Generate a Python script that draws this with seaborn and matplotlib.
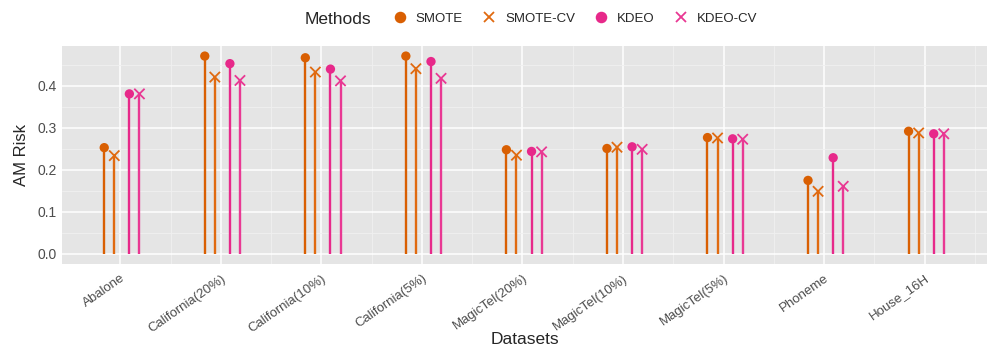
import numpy as np
import pandas as pd
import seaborn as sns
import matplotlib.pyplot as plt
from matplotlib.lines import Line2D

# data
datasets = ['Abalone', 'California(20%)', 'California(10%)', 'California(5%)',
            'MagicTel(20%)', 'MagicTel(10%)', 'MagicTel(5%)', 'Phoneme', 'House_16H']
methods = ['SMOTE', 'SMOTE-CV', 'KDEO', 'KDEO-CV']
smote = [0.253, 0.471, 0.467, 0.471, 0.248, 0.251, 0.277, 0.175, 0.292]
smote_cv = [0.234, 0.421, 0.433, 0.441, 0.235, 0.254, 0.276, 0.149, 0.288]
kdeo = [0.381, 0.453, 0.440, 0.458, 0.244, 0.255, 0.274, 0.229, 0.286]
kdeo_cv = [0.381, 0.413, 0.412, 0.418, 0.243, 0.249, 0.273, 0.161, 0.286]
y_ticks = [0.0, 0.1, 0.2, 0.3, 0.4]

colors = {'SMOTE': '#D95F02', 'SMOTE-CV': '#E06A10', 'KDEO': '#E7298A', 'KDEO-CV': '#E93893'}
markers = {'SMOTE': 'o', 'SMOTE-CV': 'x', 'KDEO': 'o', 'KDEO-CV': 'x'}
offsets = {'SMOTE': -0.16, 'SMOTE-CV': -0.06, 'KDEO': 0.09, 'KDEO-CV': 0.19}

rows = []
for m, vals in zip(methods, [smote, smote_cv, kdeo, kdeo_cv]):
    for i, (d, v) in enumerate(zip(datasets, vals)):
        rows.append({'Datasets': d, 'Methods': m, 'AM Risk': v, 'pos': i + 1 + offsets[m]})
df = pd.DataFrame(rows)

sns.set_theme(style='darkgrid')
plt.rcParams['font.family'] = ['Liberation Sans', 'DejaVu Sans']

fig = plt.figure(figsize=(9.97, 3.54), dpi=100)
ax = fig.add_axes([62 / 997, 1 - 264 / 354, 925 / 997, 218 / 354])
ax.set_facecolor('#E5E5E5')

# stems
for m in methods:
    sub = df[df.Methods == m]
    ax.vlines(sub['pos'], 0, sub['AM Risk'], colors=colors[m], lw=1.7, zorder=2)

dots = df[df.Methods.isin(['SMOTE', 'KDEO'])]
crosses = df[df.Methods.isin(['SMOTE-CV', 'KDEO-CV'])]
sns.scatterplot(data=dots, x='pos', y='AM Risk', hue='Methods', palette=colors,
                marker='o', s=45, linewidth=0, legend=False, ax=ax, zorder=3)
sns.scatterplot(data=crosses, x='pos', y='AM Risk', hue='Methods', palette=colors,
                marker='x', s=55, linewidth=1.3, legend=False, ax=ax, zorder=3)

ax.set_xlim(1 - 0.58, 9 + 0.62)
ax.set_ylim(-0.024, 0.495)
ax.set_xticks(np.arange(1, 10))
ax.set_xticks(np.arange(1.5, 9.6, 1), minor=True)
ax.set_xticklabels(datasets, rotation=35, ha='right', va='top', rotation_mode='anchor',
                   fontsize=9.5, color='#4D4D4D')
ax.set_yticks(y_ticks)
ax.set_yticks([0.05, 0.15, 0.25, 0.35, 0.45], minor=True)
ax.set_yticklabels([f'{t:.1f}' for t in y_ticks], fontsize=10, color='#4D4D4D')
ax.grid(which='major', color='white', lw=1.1)
ax.grid(which='minor', color='#F0F0F0', lw=0.6)
ax.tick_params(axis='both', which='both', length=0, pad=4)
ax.tick_params(axis='x', pad=6)
for s in ax.spines.values():
    s.set_visible(False)
ax.set_xlabel('Datasets', fontsize=12.5, va='center')
ax.xaxis.set_label_coords(0.5, -(340 - 264) / 218)
ax.set_ylabel('AM Risk', fontsize=12, labelpad=6)

# legend on top, ggplot style
handles = [Line2D([], [], color=colors[m], marker=markers[m], lw=0, markersize=7,
                  markeredgewidth=1.3) for m in methods]
fig.text(305 / 997, 1 - 19 / 354, 'Methods', fontsize=12.5, va='center', ha='left')
fig.legend(handles, methods, loc='center left', bbox_to_anchor=(380 / 997, 1 - 19 / 354), ncol=4,
           frameon=False, fontsize=9.5, handlelength=1.2, handletextpad=0.6, columnspacing=1.4)

fig.savefig('out.png', dpi=100)
